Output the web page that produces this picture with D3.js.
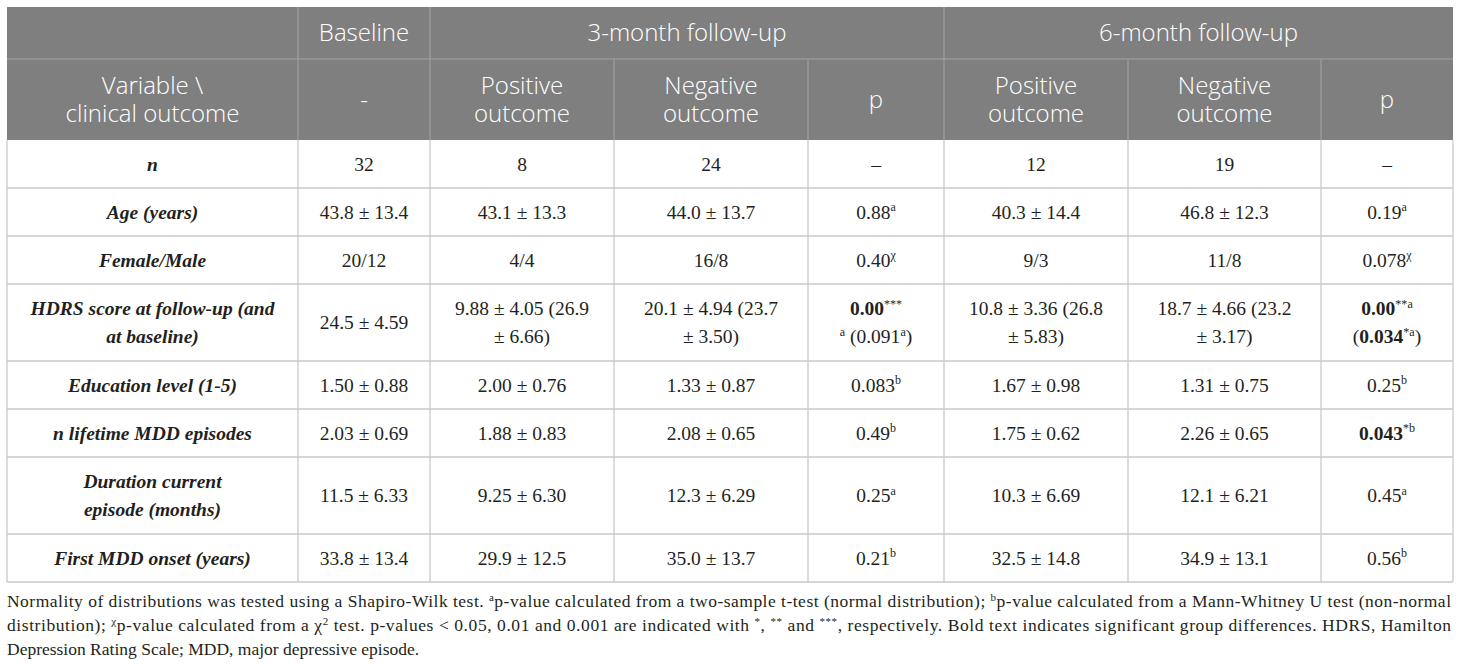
<!DOCTYPE html>
<html>
<head>
<meta charset="utf-8">
<script src="https://cdn.jsdelivr.net/npm/d3@7"></script>
<style>
  body { margin: 0; background: #fff; }
</style>
</head>
<body>
<div id="container"></div>
<script>
/* CONSTANTS AND GLOBALS */
const width = 1460;
const height = 669;

/* DATA */
// markup: {bold}  ^superscript^  | = line break
const groups = ["", "Baseline", "3-month follow-up", "6-month follow-up"];
const groupSpans = [1, 1, 3, 3];
const columns = ["Variable \\|clinical outcome", "-", "Positive|outcome", "Negative|outcome", "p",
  "Positive|outcome", "Negative|outcome", "p"];

const variables = ["n", "Age (years)", "Female/Male", "HDRS score at follow-up (and|at baseline)",
  "Education level (1-5)", "n lifetime MDD episodes", "Duration current|episode (months)",
  "First MDD onset (years)"];
const baseline = ["32", "43.8 ± 13.4", "20/12", "24.5 ± 4.59", "1.50 ± 0.88", "2.03 ± 0.69", "11.5 ± 6.33", "33.8 ± 13.4"];
const pos3 = ["8", "43.1 ± 13.3", "4/4", "9.88 ± 4.05 (26.9|± 6.66)", "2.00 ± 0.76", "1.88 ± 0.83", "9.25 ± 6.30", "29.9 ± 12.5"];
const neg3 = ["24", "44.0 ± 13.7", "16/8", "20.1 ± 4.94 (23.7|± 3.50)", "1.33 ± 0.87", "2.08 ± 0.65", "12.3 ± 6.29", "35.0 ± 13.7"];
const p3 = ["–", "0.88^a^", "0.40^χ^", "{0.00}^***^|^a^ (0.091^a^)", "0.083^b^", "0.49^b^", "0.25^a^", "0.21^b^"];
const pos6 = ["12", "40.3 ± 14.4", "9/3", "10.8 ± 3.36 (26.8|± 5.83)", "1.67 ± 0.98", "1.75 ± 0.62", "10.3 ± 6.69", "32.5 ± 14.8"];
const neg6 = ["19", "46.8 ± 12.3", "11/8", "18.7 ± 4.66 (23.2|± 3.17)", "1.31 ± 0.75", "2.26 ± 0.65", "12.1 ± 6.21", "34.9 ± 13.1"];
const p6 = ["–", "0.19^a^", "0.078^χ^", "{0.00}^**a^|({0.034}^*a^)", "0.25^b^", "{0.043}^*b^", "0.45^a^", "0.56^b^"];

const footnote = [
  "Normality of distributions was tested using a Shapiro-Wilk test. ^a^p-value calculated from a two-sample t-test (normal distribution); ^b^p-value calculated from a Mann-Whitney U test (non-normal",
  "distribution); ^χ^p-value calculated from a χ^2^ test. p-values < 0.05, 0.01 and 0.001 are indicated with ^*^, ^**^ and ^***^, respectively. Bold text indicates significant group differences. HDRS, Hamilton",
  "Depression Rating Scale; MDD, major depressive episode."
];

/* LAYOUT */
const tLeft = 7, tTop = 7;
const colWidths = [291, 132, 184, 194, 136, 184, 193, 132];
const headH = [52, 81];
const lineH = 28;
const rowH = d => 48 + (d.split("|").length - 1) * 29;

const colEdges = [tLeft, ...d3.cumsum(colWidths).map(v => v + tLeft)];
const x = i => colEdges[i];
const tRight = colEdges[colEdges.length - 1];

const rows = variables.map((v, i) => [v, baseline[i], pos3[i], neg3[i], p3[i], pos6[i], neg6[i], p6[i]]);
const bodyTop = tTop + headH[0] + headH[1];
const rowEdges = [bodyTop, ...d3.cumsum(variables.map(rowH)).map(v => v + bodyTop)];
const tBottom = rowEdges[rowEdges.length - 1];

const headerFill = "#7f7f7f";
const headLine = "#a6a6a6";
const gridLine = "#c9c9c9";
const textColor = "#231f20";

const svg = d3.select("#container")
  .append("svg")
  .attr("width", width)
  .attr("height", height)
  .style("background-color", "white");

// parse markup into segments
function parse(str) {
  return str.split(/(\{[^}]*\}|\^[^^]*\^)/).filter(s => s !== "").map(s => {
    if (s[0] === "{") return { t: s.slice(1, -1), bold: true };
    if (s[0] === "^") return { t: s.slice(1, -1), sup: true };
    return { t: s };
  });
}

function writeLine(sel, line, supSize, supShift) {
  let raised = false;
  parse(line).forEach(seg => {
    const ts = sel.append("tspan").text(seg.t);
    if (seg.sup) {
      ts.attr("font-size", supSize).attr("dy", raised ? 0 : -supShift);
      raised = true;
    } else {
      if (raised) ts.attr("dy", supShift);
      raised = false;
      if (seg.bold) ts.attr("font-weight", "bold");
    }
  });
}

// one text element per cell, one tspan per line
function cellText(g, str, cx, cy, opts) {
  const lines = str.split("|");
  const t = g.append("text")
    .attr("text-anchor", "middle")
    .attr("font-family", opts.family)
    .attr("font-size", opts.size)
    .attr("fill", opts.fill)
    .attr("font-weight", opts.weight || "normal")
    .attr("font-style", opts.style || "normal");
  lines.forEach((line, i) => {
    const ln = t.append("tspan")
      .attr("x", cx)
      .attr("y", cy + (i - (lines.length - 1) / 2) * opts.lh + opts.base);
    writeLine(ln, line, opts.size * 0.62, opts.size * 0.38);
  });
}

/* HEADER */
const head = svg.append("g");
head.append("rect")
  .attr("x", tLeft).attr("y", tTop)
  .attr("width", tRight - tLeft).attr("height", headH[0] + headH[1])
  .attr("fill", headerFill);

const headFont = { family: "'Open Sans', sans-serif", size: 24, weight: 300, fill: "#fff", lh: 28.5, base: 8.5 };
let gi = 0;
groups.forEach((g, i) => {
  const x0 = x(gi), x1 = x(gi + groupSpans[i]);
  if (g) cellText(head, g, (x0 + x1) / 2, tTop + headH[0] / 2 - 1, headFont);
  gi += groupSpans[i];
  if (gi < colWidths.length) {
    head.append("line").attr("x1", x(gi)).attr("x2", x(gi))
      .attr("y1", tTop).attr("y2", tTop + headH[0]).attr("stroke", headLine);
  }
});
head.append("line").attr("x1", tLeft).attr("x2", tRight)
  .attr("y1", tTop + headH[0]).attr("y2", tTop + headH[0]).attr("stroke", headLine);

columns.forEach((c, i) => {
  cellText(head, c, (x(i) + x(i + 1)) / 2, tTop + headH[0] + headH[1] / 2, headFont);
  if (i > 0) {
    head.append("line").attr("x1", x(i)).attr("x2", x(i))
      .attr("y1", tTop + headH[0]).attr("y2", bodyTop).attr("stroke", headLine);
  }
});

/* BODY */
const body = svg.append("g");
rows.forEach((r, ri) => {
  const y0 = rowEdges[ri], y1 = rowEdges[ri + 1];
  r.forEach((v, ci) => {
    cellText(body, v, (x(ci) + x(ci + 1)) / 2, (y0 + y1) / 2, {
      family: "'Liberation Serif', 'Times New Roman', serif",
      size: 19.5, fill: textColor, lh: lineH, base: 6.5,
      weight: ci === 0 ? "bold" : "normal",
      style: ci === 0 ? "italic" : "normal"
    });
  });
});

// grid
body.selectAll(".hline")
  .data(rowEdges.slice(1))
  .join("line")
  .attr("class", "hline")
  .attr("x1", tLeft).attr("x2", tRight)
  .attr("y1", d => d).attr("y2", d => d)
  .attr("stroke", gridLine).attr("stroke-width", 1.3);

body.selectAll(".vline")
  .data(colEdges)
  .join("line")
  .attr("class", "vline")
  .attr("x1", d => d).attr("x2", d => d)
  .attr("y1", bodyTop).attr("y2", tBottom)
  .attr("stroke", gridLine).attr("stroke-width", 1.3);

/* FOOTNOTE */
const foot = svg.append("g");
footnote.forEach((line, i) => {
  const t = foot.append("text")
    .attr("x", tLeft)
    .attr("y", 607 + i * 24)
    .attr("font-family", "'Liberation Serif', 'Times New Roman', serif")
    .attr("font-size", 17.5)
    .attr("fill", textColor);
  writeLine(t, line, 11, 6.5);
  if (i < footnote.length - 1) {
    t.attr("textLength", tRight - tLeft - 2).attr("lengthAdjust", "spacing");
  }
});
</script>
</body>
</html>
